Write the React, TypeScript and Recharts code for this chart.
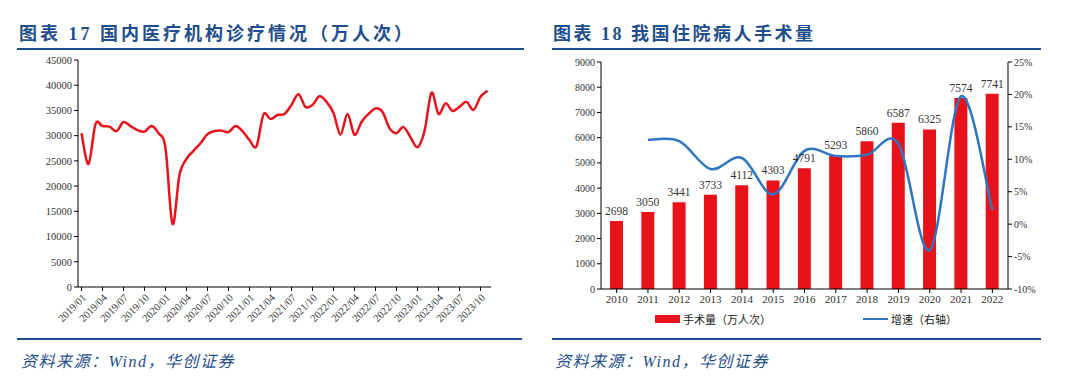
import {
  Bar,
  ComposedChart,
  LabelList,
  Legend,
  Line,
  LineChart,
  XAxis,
  YAxis,
} from "recharts";

const months = [
  "2019/01", "2019/02", "2019/03", "2019/04", "2019/05", "2019/06", "2019/07", "2019/08", "2019/09", "2019/10", "2019/11", "2019/12",
  "2020/01", "2020/02", "2020/03", "2020/04", "2020/05", "2020/06", "2020/07", "2020/08", "2020/09", "2020/10", "2020/11", "2020/12",
  "2021/01", "2021/02", "2021/03", "2021/04", "2021/05", "2021/06", "2021/07", "2021/08", "2021/09", "2021/10", "2021/11", "2021/12",
  "2022/01", "2022/02", "2022/03", "2022/04", "2022/05", "2022/06", "2022/07", "2022/08", "2022/09", "2022/10", "2022/11", "2022/12",
  "2023/01", "2023/02", "2023/03", "2023/04", "2023/05", "2023/06", "2023/07", "2023/08", "2023/09", "2023/10", "2023/11",
];

const visits = [
  30500, 24400, 32300, 31900, 31800, 30900, 32700, 31900, 31100, 30800, 31900, 30500,
  27500, 12500, 22200, 25400, 27000, 28500, 30300, 30900, 31000, 30700, 31900, 30900,
  29100, 27900, 34200, 33300, 34100, 34300, 36100, 38200, 35700, 36100, 37800, 36700,
  34500, 30200, 34300, 30200, 32700, 34300, 35400, 34700, 31500, 30500, 31700, 29700,
  27700, 30900, 38500, 34300, 36400, 34900, 35700, 36700, 35100, 37700, 38900,
];

const visitTicks = [0, 5000, 10000, 15000, 20000, 25000, 30000, 35000, 40000, 45000];

const years = ["2010", "2011", "2012", "2013", "2014", "2015", "2016", "2017", "2018", "2019", "2020", "2021", "2022"];
const surgeries = [2698, 3050, 3441, 3733, 4112, 4303, 4791, 5293, 5860, 6587, 6325, 7574, 7741];
const growth = [null, 13.0, 12.8, 8.5, 10.2, 4.6, 11.3, 10.5, 10.7, 12.4, -4.0, 19.7, 2.2];

const surgeryTicks = [0, 1000, 2000, 3000, 4000, 5000, 6000, 7000, 8000, 9000];
const growthTicks = [-10, -5, 0, 5, 10, 15, 20, 25];

const visitData = months.map((m, i) => ({ m, v: visits[i] }));
const surgeryData = years.map((y, i) => ({ y, s: surgeries[i], g: growth[i] }));

const BLUE = "#1f4e8c";
const RED = "#e8121b";
const LINE_BLUE = "#2f75c0";
const SERIF = '"Liberation Serif", "Noto Sans CJK SC", serif';

// Excel style smoothed line (catmull-rom through every point)
function smooth(context: any) {
  let pts: number[][] = [];
  return {
    areaStart() {},
    areaEnd() {},
    lineStart() {
      pts = [];
    },
    point(x: number, y: number) {
      pts.push([+x, +y]);
    },
    lineEnd() {
      const n = pts.length;
      if (!n) return;
      context.moveTo(pts[0][0], pts[0][1]);
      for (let i = 0; i < n - 1; i++) {
        const p0 = pts[Math.max(i - 1, 0)];
        const p1 = pts[i];
        const p2 = pts[i + 1];
        const p3 = pts[Math.min(i + 2, n - 1)];
        context.bezierCurveTo(
          p1[0] + (p2[0] - p0[0]) / 6,
          p1[1] + (p2[1] - p0[1]) / 6,
          p2[0] - (p3[0] - p1[0]) / 6,
          p2[1] - (p3[1] - p1[1]) / 6,
          p2[0],
          p2[1]
        );
      }
    },
  };
}

const titleStyle: any = {
  position: "absolute",
  top: 19,
  fontFamily: SERIF,
  fontWeight: 700,
  fontSize: 18,
  letterSpacing: 3,
  color: BLUE,
  whiteSpace: "nowrap",
};

const sourceStyle: any = {
  position: "absolute",
  top: 348,
  fontFamily: SERIF,
  fontStyle: "italic",
  fontSize: 16,
  letterSpacing: 1.5,
  color: BLUE,
  whiteSpace: "nowrap",
};

const rule = (left: number, top: number, width: number): any => ({
  position: "absolute",
  left,
  top,
  width,
  height: 2,
  background: BLUE,
});

function SurgeryLegend() {
  return (
    <div
      style={{
        display: "flex",
        justifyContent: "flex-start",
        alignItems: "center",
        fontFamily: '"Noto Sans CJK SC", sans-serif',
        fontSize: 11,
        color: "#222",
        paddingLeft: 115,
      }}
    >
      <span style={{ display: "inline-block", width: 25, height: 8, background: RED, marginRight: 3 }} />
      <span>手术量（万人次）</span>
      <span style={{ display: "inline-block", width: 25, height: 2, background: LINE_BLUE, marginLeft: 92, marginRight: 3 }} />
      <span>增速（右轴）</span>
    </div>
  );
}

export default function App() {
  return (
    <div style={{ position: "absolute", left: 0, top: 0, width: 1080, height: 379, background: "#fff" }}>
      <div style={{ ...titleStyle, left: 19 }}>图表 17&nbsp;国内医疗机构诊疗情况（万人次）</div>
      <div style={rule(17, 48, 507)} />
      <div style={{ ...titleStyle, left: 553, letterSpacing: 2.5 }}>图表 18&nbsp;我国住院病人手术量</div>
      <div style={rule(552, 48, 489)} />

      <div style={{ position: "absolute", left: 0, top: 50 }}>
        <LineChart width={520} height={300} data={visitData} margin={{ top: 10, right: 29, left: 0, bottom: 3 }}>
          <XAxis
            dataKey="m"
            interval={2}
            angle={-45}
            textAnchor="end"
            height={60}
            padding={{ left: 3.5, right: 3.5 }}
            tick={{ fontSize: 10.5, fill: "#333", fontFamily: SERIF }}
            tickSize={4}
            tickLine={{ stroke: "#000" }}
            axisLine={{ stroke: "#000" }}
          />
          <YAxis
            width={78}
            domain={[0, 45000]}
            ticks={visitTicks}
            tick={{ fontSize: 10.5, fill: "#333", fontFamily: SERIF }}
            tickSize={4}
            tickLine={{ stroke: "#000" }}
            axisLine={{ stroke: "#000" }}
          />
          <Line dataKey="v" type={smooth as any} stroke={RED} strokeWidth={2.5} dot={false} isAnimationActive={false} />
        </LineChart>
      </div>

      <div style={{ position: "absolute", left: 540, top: 50 }}>
        <ComposedChart width={540} height={289} data={surgeryData} margin={{ top: 12, right: 32, left: 0, bottom: 0 }}>
          <XAxis
            dataKey="y"
            height={22}
            tick={{ fontSize: 11, fill: "#333", fontFamily: SERIF }}
            tickSize={4}
            tickLine={{ stroke: "#000" }}
            axisLine={{ stroke: "#000" }}
          />
          <YAxis
            yAxisId="l"
            width={61}
            domain={[0, 9000]}
            ticks={surgeryTicks}
            tick={{ fontSize: 10, fill: "#333", fontFamily: SERIF }}
            tickSize={4}
            tickLine={{ stroke: "#000" }}
            axisLine={{ stroke: "#000" }}
          />
          <YAxis
            yAxisId="r"
            orientation="right"
            width={40}
            domain={[-10, 25]}
            ticks={growthTicks}
            tickFormatter={(v: number) => `${v}%`}
            tick={{ fontSize: 10, fill: "#333", fontFamily: SERIF }}
            tickSize={4}
            tickLine={{ stroke: "#000" }}
            axisLine={{ stroke: "#000" }}
          />
          <Legend verticalAlign="bottom" height={28} content={() => <SurgeryLegend />} />
          <Bar yAxisId="l" dataKey="s" fill={RED} barSize={13} isAnimationActive={false}>
            <LabelList dataKey="s" position="top" offset={6} style={{ fontSize: 11.5, fill: "#333", fontFamily: SERIF }} />
          </Bar>
          <Line
            yAxisId="r"
            dataKey="g"
            type={smooth as any}
            stroke={LINE_BLUE}
            strokeWidth={2.5}
            dot={false}
            isAnimationActive={false}
          />
        </ComposedChart>
      </div>

      <div style={rule(17, 338, 505)} />
      <div style={rule(552, 338, 489)} />
      <div style={{ ...sourceStyle, left: 21 }}>资料来源：Wind，华创证券</div>
      <div style={{ ...sourceStyle, left: 555 }}>资料来源：Wind，华创证券</div>
    </div>
  );
}
